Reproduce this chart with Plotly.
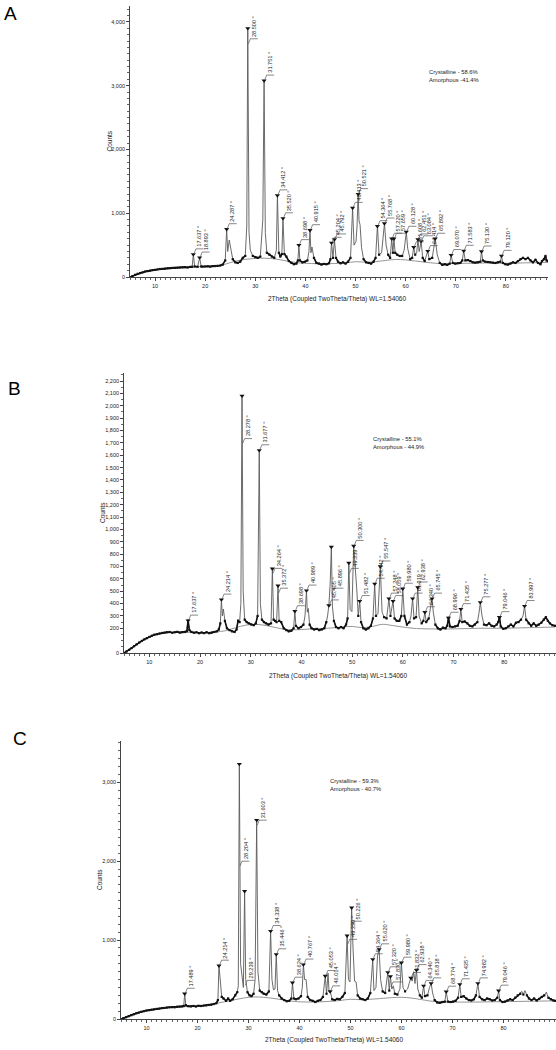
import numpy as np
import plotly.graph_objects as go

W, H = 556, 1050
FONT = "Liberation Sans, Arial, sans-serif"

# ---------------- Panel A data ----------------
a_x = [5.0, 5.5, 6.0, 6.5, 7.0, 7.5, 8.0, 8.5, 9.0, 9.5,
       10.0, 10.5, 11.0, 11.5, 12.0, 12.5, 13.0, 13.5, 14.0, 14.5,
       15.0, 15.5, 16.0, 16.5, 17.0, 17.4, 17.637, 17.9, 18.5, 18.893,
       19.2, 19.5, 20.0, 20.5, 21.0, 21.5, 22.0, 22.5, 23.0, 23.5,
       24.0, 24.287, 24.5, 24.8, 25.1, 25.5, 26.0, 26.5, 27.0, 27.5,
       28.0, 28.3, 28.5, 28.75, 29.0, 29.5, 30.0, 30.5, 31.0, 31.5,
       31.751, 32.0, 32.3, 32.8, 33.3, 33.8, 34.2, 34.412, 34.7, 35.0,
       35.3, 35.52, 35.8, 36.2, 36.7, 37.2, 37.7, 38.2, 38.5, 38.698,
       38.9, 39.4, 39.9, 40.4, 40.7, 40.915, 41.1, 41.3, 41.7, 42.2,
       42.7, 43.2, 43.7, 44.2, 44.7, 45.0, 45.204, 45.5, 45.792, 46.1,
       46.5, 47.0, 47.5, 48.0, 48.5, 49.0, 49.413, 49.7, 50.1, 50.3,
       50.521, 50.7, 50.9, 51.2, 51.6, 52.1, 52.6, 53.1, 53.6, 54.0,
       54.364, 54.7, 55.2, 55.768, 56.1, 56.5, 56.9, 57.22, 57.45, 57.659,
       57.9, 58.3, 58.8, 59.3, 59.7, 60.128, 60.4, 60.9, 61.3, 61.608,
       61.9, 62.2, 62.451, 62.7, 63.084, 63.4, 63.8, 64.414, 64.7, 65.3,
       65.6, 65.892, 66.3, 66.8, 67.3, 67.8, 68.3, 68.8, 69.07, 69.4,
       69.9, 70.4, 70.9, 71.3, 71.583, 71.9, 72.4, 72.9, 73.4, 73.9,
       74.4, 74.9, 75.13, 75.4, 75.9, 76.4, 76.9, 77.4, 77.9, 78.4,
       78.9, 79.12, 79.4, 79.9, 80.4, 80.9, 81.4, 81.9, 82.4, 82.9,
       83.4, 83.9, 84.4, 84.9, 85.4, 85.9, 86.4, 86.9, 87.2, 87.6,
       87.9, 88.1, 88.4]
a_y = [0, 15, 35, 50, 62, 72, 85, 92, 100, 108,
       112, 118, 125, 128, 132, 138, 140, 143, 145, 148,
       150, 152, 155, 150, 158, 160, 355, 165, 160, 305,
       165, 162, 165, 168, 163, 170, 172, 175, 180, 195,
       260, 750, 400, 580, 470, 280, 230, 220, 240, 300,
       330, 800, 3900, 700, 420, 330, 310, 300, 320, 900,
       3080, 700, 380, 350, 320, 300, 420, 1280, 380, 320,
       360, 920, 360, 320, 250, 220, 200, 210, 260, 500,
       260, 230, 240, 260, 400, 734, 380, 470, 300, 220,
       210, 195, 205, 200, 215, 280, 537, 300, 589, 300,
       240, 215, 230, 210, 240, 300, 1084, 500, 560, 800,
       1300, 880, 820, 460, 280, 230, 220, 210, 240, 300,
       797, 350, 380, 839, 500, 350, 300, 600, 380, 600,
       380, 350, 330, 330, 420, 709, 450, 280, 300, 467,
       350, 380, 589, 400, 560, 300, 250, 406, 280, 300,
       450, 600, 350, 220, 190, 200, 190, 210, 344, 220,
       210, 215, 220, 260, 411, 260, 265, 250, 230, 225,
       230, 240, 400, 260, 240, 235, 230, 225, 220, 230,
       240, 332, 220, 200, 195, 210, 230, 220, 250, 280,
       300, 280, 300, 260, 230, 270, 220, 200, 250, 280,
       330, 260, 250]
a_bg_x = [5, 7, 9, 12, 15, 18, 21, 23, 25, 27, 29, 31, 33, 35, 37, 39, 42, 45,
          48, 50, 52, 54, 56, 58, 60, 62, 64, 66, 68, 72, 76, 80, 84, 88.4]
a_bg_y = [0, 60, 100, 130, 150, 160, 168, 180, 225, 265, 285, 295, 290, 270, 240, 220, 210, 210,
          220, 240, 232, 240, 260, 275, 268, 250, 232, 215, 210, 215, 220, 215, 222, 230]
a_peaks = [17.637, 18.893, 24.287, 28.500, 31.751, 34.412, 35.520, 38.698, 40.915,
           45.204, 45.792, 49.413, 50.521, 54.364, 55.768, 57.220, 57.659, 60.128,
           61.608, 62.451, 63.084, 64.414, 65.892, 69.070, 71.583, 75.130, 79.120]
a_peak_counts = [355, 305, 750, 3900, 3080, 1280, 920, 500, 734,
                 537, 589, 1084, 1300, 797, 839, 600, 600, 709,
                 467, 589, 560, 406, 600, 344, 411, 400, 332]
a_label_base = [355, 305, 750, 3650, 3080, 1280, 920, 500, 734,
                537, 589, 1084, 1300, 797, 839, 600, 600, 709,
                467, 589, 560, 406, 600, 344, 411, 400, 332]
a_note = ["Crystalline - 58.6%", "Amorphous -41.4%"]

# ---------------- Panel B data ----------------
b_x = [5.0, 5.5, 6.0, 6.5, 7.0, 7.5, 8.0, 8.5, 9.0, 9.5,
       10.0, 10.5, 11.0, 11.5, 12.0, 12.5, 13.0, 13.5, 14.0, 14.5,
       15.0, 15.5, 16.0, 16.5, 17.0, 17.4, 17.637, 17.9, 18.3, 18.8,
       19.3, 19.8, 20.3, 20.8, 21.3, 21.8, 22.3, 22.8, 23.3, 23.7,
       24.0, 24.214, 24.4, 24.6, 24.9, 25.3, 25.8, 26.3, 26.8, 27.2,
       27.5, 27.8, 28.05, 28.278, 28.5, 28.8, 29.2, 29.6, 30.1, 30.6,
       31.0, 31.35, 31.677, 31.9, 32.2, 32.6, 33.0, 33.5, 34.0, 34.264,
       34.5, 34.8, 35.1, 35.372, 35.6, 36.0, 36.5, 37.0, 37.5, 38.0,
       38.45, 38.698, 38.9, 39.4, 39.9, 40.4, 40.7, 40.989, 41.15, 41.35,
       41.6, 42.0, 42.5, 43.0, 43.5, 44.0, 44.5, 44.9, 45.15, 45.405,
       45.65, 45.896, 46.1, 46.4, 46.8, 47.3, 47.8, 48.3, 48.8, 49.1,
       49.339, 49.6, 49.95, 50.3, 50.6, 50.9, 51.2, 51.482, 51.75, 52.2,
       52.7, 53.2, 53.7, 54.1, 54.442, 54.7, 55.1, 55.547, 55.9, 56.3,
       56.8, 57.248, 57.55, 58.059, 58.35, 58.8, 59.3, 59.7, 59.98, 60.3,
       60.8, 61.3, 61.6, 61.919, 62.2, 62.6, 62.938, 63.2, 63.7, 64.05,
       64.34, 64.6, 65.1, 65.5, 65.745, 66.0, 66.4, 66.9, 67.4, 67.9,
       68.4, 68.75, 68.996, 69.3, 69.8, 70.3, 70.8, 71.2, 71.435, 71.7,
       72.2, 72.7, 73.2, 73.7, 74.2, 74.7, 75.0, 75.277, 75.6, 76.0,
       76.5, 77.0, 77.5, 78.0, 78.5, 78.8, 79.046, 79.3, 79.8, 80.3,
       80.8, 81.3, 81.8, 82.3, 82.8, 83.3, 83.7, 83.997, 84.3, 84.8,
       85.3, 85.8, 86.3, 86.8, 87.3, 87.8, 88.2, 88.6, 89.0, 89.5,
       90.0]
b_y = [0, 12, 25, 40, 55, 70, 85, 98, 110, 120,
       130, 140, 148, 152, 158, 162, 165, 168, 170, 164,
       168, 171, 165, 168, 170, 176, 262, 185, 170, 164,
       168, 160, 166, 161, 168, 160, 165, 170, 175, 190,
       240, 432, 300, 356, 260, 200, 185, 175, 170, 190,
       262, 250, 400, 2080, 500, 270, 250, 240, 230, 225,
       240, 300, 1640, 400, 270, 250, 240, 230, 240, 682,
       270, 260, 250, 545, 260, 250, 200, 185, 175, 180,
       200, 338, 220, 200, 210, 230, 300, 505, 330, 360,
       230, 200, 190, 195, 185, 190, 200, 250, 300, 385,
       550, 858, 380, 260, 210, 200, 210, 200, 230, 280,
       728, 350, 335, 866, 640, 520, 300, 420, 250, 200,
       190, 200, 220, 280, 560, 300, 320, 700, 330, 290,
       280, 440, 300, 420, 280, 260, 260, 300, 520, 300,
       230, 250, 300, 440, 280, 290, 530, 300, 240, 260,
       330, 250, 280, 380, 440, 330, 230, 200, 190, 205,
       200, 220, 285, 215, 210, 215, 220, 260, 355, 250,
       255, 240, 220, 215, 230, 250, 320, 410, 300, 230,
       225, 240, 220, 215, 230, 250, 290, 215, 195, 200,
       215, 230, 215, 245, 250, 270, 300, 380, 270, 240,
       220, 240, 220, 230, 245, 270, 290, 260, 240, 225,
       220]
b_bg_x = [5, 8, 11, 14, 17, 20, 23, 25, 27, 29, 31, 33, 35, 37, 39, 42, 45, 48,
          50, 52, 54, 56, 58, 60, 62, 65, 70, 75, 80, 85, 90]
b_bg_y = [0, 85, 148, 165, 168, 165, 170, 180, 205, 225, 232, 222, 205, 190, 188, 195, 200, 210,
          215, 205, 215, 232, 222, 210, 200, 195, 195, 200, 200, 205, 210]
b_peaks = [17.637, 24.214, 28.278, 31.677, 34.264, 35.372, 38.698, 40.989, 45.405,
           45.896, 49.339, 50.300, 51.482, 54.442, 55.547, 57.248, 58.059, 59.980,
           61.919, 62.938, 64.340, 65.745, 68.996, 71.435, 75.277, 79.046, 83.997]
b_peak_counts = [262, 432, 2080, 1640, 682, 545, 338, 505, 385,
                 858, 728, 866, 420, 560, 700, 440, 420, 520,
                 440, 530, 330, 440, 285, 355, 410, 290, 380]
b_label_base = [262, 432, 1690, 1640, 640, 480, 338, 505, 385,
                480, 640, 866, 420, 560, 700, 440, 420, 520,
                440, 530, 330, 440, 285, 355, 410, 290, 380]
b_yticks = [0, 200, 300, 400, 500, 600, 700, 800, 900, 1000, 1100, 1200,
            1300, 1400, 1500, 1600, 1700, 1800, 1900, 2000, 2100, 2200]
b_note = ["Crystalline - 55.1%", "Amorphous - 44.9%"]

# ---------------- Panel C data ----------------
c_x = [5.0, 5.5, 6.0, 6.5, 7.0, 7.5, 8.0, 8.5, 9.0, 9.5,
       10.0, 10.5, 11.0, 11.5, 12.0, 12.5, 13.0, 13.5, 14.0, 14.5,
       15.0, 15.5, 16.0, 16.5, 17.0, 17.3, 17.489, 17.7, 18.2, 18.7,
       19.2, 19.7, 20.2, 20.7, 21.2, 21.7, 22.2, 22.7, 23.2, 23.7,
       24.0, 24.214, 24.5, 24.75, 25.1, 25.6, 26.0, 26.4, 26.9, 27.4,
       27.8, 28.0, 28.204, 28.45, 28.8, 29.0, 29.239, 29.45, 29.8, 30.2,
       30.6, 31.0, 31.3, 31.603, 31.85, 32.2, 32.6, 33.0, 33.5, 34.0,
       34.338, 34.6, 34.9, 35.2, 35.446, 35.7, 36.0, 36.5, 37.0, 37.5,
       38.0, 38.4, 38.624, 38.9, 39.3, 39.8, 40.3, 40.55, 40.767, 41.0,
       41.3, 41.6, 42.1, 42.6, 43.1, 43.6, 44.1, 44.6, 45.053, 45.3,
       45.6, 45.8, 46.014, 46.4, 46.9, 47.4, 47.9, 48.4, 48.9, 49.339,
       49.6, 49.9, 50.226, 50.5, 50.8, 51.1, 51.4, 51.9, 52.4, 52.9,
       53.4, 53.9, 54.364, 54.6, 55.0, 55.3, 55.62, 55.9, 56.3, 56.8,
       57.32, 57.6, 57.83, 58.1, 58.4, 58.7, 59.2, 59.7, 59.98, 60.3,
       60.7, 61.2, 61.5, 61.832, 62.1, 62.4, 62.65, 62.938, 63.2, 63.6,
       64.0, 64.34, 64.6, 65.1, 65.5, 65.818, 66.1, 66.5, 67.0, 67.5,
       68.0, 68.5, 68.774, 69.1, 69.6, 70.1, 70.6, 71.1, 71.435, 71.7,
       72.2, 72.7, 73.2, 73.7, 74.2, 74.6, 74.982, 75.3, 75.8, 76.3,
       76.8, 77.3, 77.8, 78.3, 78.8, 79.046, 79.3, 79.8, 80.3, 80.8,
       81.3, 81.8, 82.3, 82.8, 83.3, 83.6, 83.9, 84.2, 84.6, 85.0,
       85.5, 86.0, 86.5, 87.0, 87.5, 88.0, 88.4, 88.8, 89.3, 89.8,
       90.2]
c_y = [0, 10, 22, 35, 48, 60, 72, 82, 92, 100,
       108, 112, 118, 122, 128, 132, 138, 140, 145, 148,
       150, 148, 155, 158, 160, 165, 320, 175, 162, 160,
       165, 158, 168, 165, 170, 172, 178, 180, 190, 200,
       240, 676, 507, 280, 260, 230, 260, 230, 250, 300,
       340, 420, 3230, 700, 450, 400, 1620, 500, 340, 300,
       290, 320, 500, 2520, 600, 360, 340, 320, 310, 350,
       1115, 500, 370, 380, 820, 360, 300, 260, 240, 225,
       230, 260, 460, 260, 250, 260, 290, 400, 690, 500,
       500, 280, 240, 230, 215, 230, 240, 280, 545, 320,
       580, 340, 350, 250, 240, 255, 250, 280, 330, 1056,
       500, 470, 1411, 900, 480, 470, 300, 260, 250, 240,
       260, 330, 757, 360, 400, 800, 883, 500, 350, 330,
       592, 360, 540, 380, 420, 320, 310, 380, 714, 400,
       350, 380, 450, 520, 480, 600, 450, 620, 380, 300,
       270, 420, 290, 300, 400, 452, 330, 240, 210, 205,
       215, 220, 346, 220, 215, 220, 230, 270, 440, 280,
       290, 260, 240, 235, 250, 300, 452, 280, 250, 240,
       260, 250, 235, 240, 270, 359, 240, 215, 220, 235,
       250, 240, 270, 300, 320, 350, 310, 360, 300, 260,
       240, 260, 235, 255, 280, 300, 340, 270, 250, 235,
       230]
c_bg_x = [5, 8, 11, 14, 17, 20, 23, 25, 27, 29, 31, 33, 35, 37, 39, 42, 45, 48,
          50, 52, 55, 58, 60, 62, 64, 66, 70, 75, 80, 85, 90.2]
c_bg_y = [0, 70, 115, 140, 155, 165, 190, 215, 240, 265, 280, 275, 260, 240, 222, 215, 220, 235,
          250, 245, 255, 270, 275, 265, 245, 225, 215, 215, 220, 225, 230]
c_peaks = [17.489, 24.214, 28.204, 29.239, 31.603, 34.338, 35.446, 38.624, 40.767,
           45.053, 46.014, 49.339, 50.226, 54.364, 55.620, 57.320, 57.830, 59.980,
           61.832, 62.938, 64.340, 65.818, 68.774, 71.435, 74.982, 79.046]
c_peak_counts = [320, 676, 3230, 1620, 2520, 1115, 820, 460, 690,
                 545, 350, 1056, 1411, 757, 883, 592, 540, 714,
                 520, 620, 420, 452, 346, 440, 452, 359]
c_label_base = [320, 676, 1930, 420, 2450, 1115, 820, 460, 690,
                545, 350, 940, 1170, 757, 883, 592, 400, 714,
                520, 620, 420, 452, 346, 440, 452, 359]
c_note = ["Crystalline - 59.3%", "Amorphous - 40.7%"]

x_major = [10, 20, 30, 40, 50, 60, 70, 80]
x_title = "2Theta (Coupled TwoTheta/Theta) WL=1.54060"

# ---------------- layout geometry (pixels) ----------------
panels = [
    dict(letter="A", x=a_x, y=a_y, bgx=a_bg_x, bgy=a_bg_y, pk=a_peaks, pkc=a_peak_counts,
         lb=a_label_base, note=a_note, L=130, R=548, T=6, B=277, xmax=88.4, ymax=4250,
         yticks=[0, 1000, 2000, 3000, 4000], yminor=100, thr=110,
         letter_pos=(10, 14), counts_x=109, xt_pos=(337, 299), note_pos=(427, 76)),
    dict(letter="B", x=b_x, y=b_y, bgx=b_bg_x, bgy=b_bg_y, pk=b_peaks, pkc=b_peak_counts,
         lb=b_label_base, note=b_note, L=124, R=556, T=373, B=653, xmax=90.2, ymax=2265,
         yticks=b_yticks, yminor=50, thr=95,
         letter_pos=(14, 388), counts_x=102, xt_pos=(338, 676), note_pos=(371, 443)),
    dict(letter="C", x=c_x, y=c_y, bgx=c_bg_x, bgy=c_bg_y, pk=c_peaks, pkc=c_peak_counts,
         lb=c_label_base, note=c_note, L=121, R=556, T=741, B=1019, xmax=90.3, ymax=3523,
         yticks=[0, 1000, 2000, 3000], yminor=100, thr=100,
         letter_pos=(20, 738), counts_x=99, xt_pos=(334, 1040), note_pos=(328, 785)),
]

fig = go.Figure()
annotations = []
layout_axes = {}

for i, p in enumerate(panels):
    n = "" if i == 0 else str(i + 1)
    xa, ya = "x" + n, "y" + n
    L, R, T, B = p["L"], p["R"], p["T"], p["B"]
    ppx = (R - L) / (p["xmax"] - 5.0)
    ppy = (B - T) / p["ymax"]

    # amorphous background
    fig.add_trace(go.Scatter(x=p["bgx"], y=p["bgy"], mode="lines", xaxis=xa, yaxis=ya,
                             line=dict(color="#8a8a8a", width=0.9, shape="spline"),
                             showlegend=False, hoverinfo="skip"))
    # full pattern (grey peaks)
    fig.add_trace(go.Scatter(x=p["x"], y=p["y"], mode="lines", xaxis=xa, yaxis=ya,
                             line=dict(color="#5a5a5a", width=0.9),
                             showlegend=False, hoverinfo="skip"))
    # noisy low part darker
    xs = np.array(p["x"], float)
    ys = np.array(p["y"], float)
    bgi = np.interp(xs, p["bgx"], p["bgy"])
    low = [yv if yv <= b + p["thr"] else None for yv, b in zip(ys, bgi)]
    fig.add_trace(go.Scatter(x=p["x"], y=low, mode="lines+markers", xaxis=xa, yaxis=ya,
                             line=dict(color="#111", width=1.6),
                             marker=dict(size=2.2, color="#111", symbol="square"),
                             connectgaps=False, showlegend=False, hoverinfo="skip"))
    # peak markers
    fig.add_trace(go.Scatter(x=p["pk"], y=p["pkc"], mode="markers", xaxis=xa, yaxis=ya,
                             marker=dict(symbol="triangle-down", size=4.5, color="#111"),
                             showlegend=False, hoverinfo="skip"))

    # leaders + labels
    lx, ly = [], []
    prev_c = -1e9
    for pos, base in zip(p["pk"], p["lb"]):
        ppos = L + (pos - 5.0) * ppx
        c = max(ppos + 6.0, prev_c + 4.6)
        prev_c = c
        lvl = base + 5.5 / ppy
        lx += [pos + 0.6 / ppx, pos + 2.6 / ppx, 5.0 + (c + 4.0 - L) / ppx, None]
        ly += [base + 0.5 / ppy, lvl, lvl, None]
        annotations.append(dict(x=5.0 + (c - L) / ppx, y=lvl, xref=xa, yref=ya,
                                text=f"{pos:.3f} °", showarrow=False, textangle=-90,
                                xanchor="center", yanchor="bottom",
                                font=dict(size=5.6, family=FONT, color="#222")))
    fig.add_trace(go.Scatter(x=lx, y=ly, mode="lines", xaxis=xa, yaxis=ya,
                             line=dict(color="#555", width=0.7),
                             showlegend=False, hoverinfo="skip"))

    layout_axes["xaxis" + n] = dict(
        domain=[L / W, R / W], range=[5, p["xmax"]], anchor=ya,
        showline=True, linecolor="#444", linewidth=0.8, showgrid=False, zeroline=False,
        tickmode="array", tickvals=x_major, ticktext=[str(v) for v in x_major],
        ticks="outside", ticklen=3, tickwidth=0.8, tickcolor="#444",
        tickfont=dict(size=5.5, family=FONT, color="#222"),
        minor=dict(dtick=1, tick0=0, ticks="outside", ticklen=1.8, tickwidth=0.6, tickcolor="#666"),
        automargin=False, fixedrange=True)
    layout_axes["yaxis" + n] = dict(
        domain=[1 - B / H, 1 - T / H], range=[0, p["ymax"]], anchor=xa,
        showline=True, linecolor="#444", linewidth=0.8, showgrid=False, zeroline=False,
        tickmode="array", tickvals=p["yticks"], ticktext=[f"{v:,}" for v in p["yticks"]],
        ticks="outside", ticklen=3, tickwidth=0.8, tickcolor="#444",
        tickfont=dict(size=5.5, family=FONT, color="#222"),
        minor=dict(dtick=p["yminor"], tick0=0, ticks="outside", ticklen=1.8, tickwidth=0.6, tickcolor="#666"),
        automargin=False, fixedrange=True)

    # texts
    annotations.append(dict(x=p["letter_pos"][0] / W, y=1 - p["letter_pos"][1] / H, xref="paper", yref="paper",
                            text=p["letter"], showarrow=False, xanchor="center", yanchor="middle",
                            font=dict(size=19, family=FONT, color="#000")))
    annotations.append(dict(x=p["counts_x"] / W, y=1 - (T + B) / 2 / H, xref="paper", yref="paper",
                            text="Counts", showarrow=False, textangle=-90, xanchor="center", yanchor="middle",
                            font=dict(size=6.5, family=FONT, color="#222")))
    annotations.append(dict(x=p["xt_pos"][0] / W, y=1 - p["xt_pos"][1] / H, xref="paper", yref="paper",
                            text=x_title, showarrow=False, xanchor="center", yanchor="middle",
                            font=dict(size=6.5, family=FONT, color="#222")))
    annotations.append(dict(x=p["note_pos"][0] / W, y=1 - p["note_pos"][1] / H, xref="paper", yref="paper",
                            text="<br>".join(p["note"]), showarrow=False, xanchor="left", yanchor="middle",
                            align="left", font=dict(size=5.8, family=FONT, color="#222")))

fig.update_layout(width=W, height=H, margin=dict(l=0, r=0, t=0, b=0),
                  paper_bgcolor="white", plot_bgcolor="white", showlegend=False,
                  annotations=annotations, **layout_axes)

fig.write_html("out.html")
